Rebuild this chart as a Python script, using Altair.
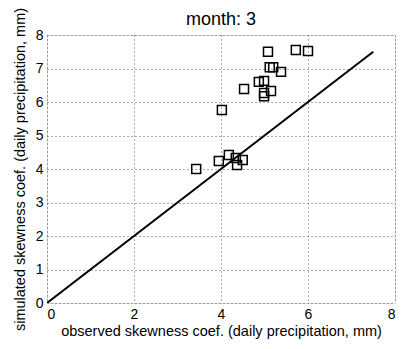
import altair as alt
import pandas as pd

# observed vs simulated skewness coefficients (month 3)
observed = [5.72, 6.00, 5.08, 5.12, 5.20, 5.38, 4.87, 4.99, 4.53, 5.15, 4.99, 4.99, 4.02,
            3.43, 3.95, 4.18, 4.34, 4.37, 4.50]
simulated = [7.55, 7.52, 7.50, 7.04, 7.04, 6.90, 6.60, 6.63, 6.39, 6.33, 6.27, 6.17, 5.76,
             4.00, 4.24, 4.42, 4.33, 4.12, 4.27]
line_x = [0, 7.5]
line_y = [0, 7.5]
x_ticks = [0, 2, 4, 6, 8]
y_ticks = [0, 1, 2, 3, 4, 5, 6, 7, 8]
title_text = ["month: 3"]

pts = pd.DataFrame({"obs": observed, "sim": simulated})
ln = pd.DataFrame({"obs": line_x, "sim": line_y})
tt = pd.DataFrame({"t": title_text})

FONT = "Liberation Sans"

xs = alt.Scale(domain=[0, 8], nice=False)
ys = alt.Scale(domain=[0, 8], nice=False)

xax = alt.Axis(values=x_ticks, title="observed skewness coef. (daily precipitation, mm)",
               grid=True, gridColor="#555", gridDash=[1, 3], gridWidth=1,
               domain=False, ticks=False, labelPadding=4, labelFontSize=14,
               titleFontSize=14.5, titleFontWeight="normal", titlePadding=3,
               labelColor="black", titleColor="black", labelFont=FONT, titleFont=FONT)
yax = alt.Axis(values=y_ticks, title="simulated skewness coef. (daily precipitation, mm)",
               grid=True, gridColor="#555", gridDash=[1, 3], gridWidth=1,
               domain=False, ticks=False, labelPadding=4, labelFontSize=14,
               labelOverlap=False,
               titleFontSize=14.5, titleFontWeight="normal", titlePadding=8,
               labelColor="black", titleColor="black", labelFont=FONT, titleFont=FONT)

line = alt.Chart(ln).mark_line(color="black", strokeWidth=2, clip=True).encode(
    x=alt.X("obs:Q", scale=xs, axis=xax),
    y=alt.Y("sim:Q", scale=ys, axis=yax),
)
points = alt.Chart(pts).mark_point(shape="square", filled=False, color="black",
                                   size=80, strokeWidth=1.5, opacity=1).encode(
    x=alt.X("obs:Q", scale=xs, axis=xax),
    y=alt.Y("sim:Q", scale=ys, axis=yax),
)
title = alt.Chart(tt).mark_text(font=FONT, fontSize=18, color="black",
                                baseline="alphabetic", align="center").encode(
    text="t:N", x=alt.value(174), y=alt.value(-10),
)

chart = (line + points + title).properties(
    width=348, height=268,
    autosize=alt.AutoSizeParams(type="none"),
    padding={"left": 47, "top": 35, "right": 12, "bottom": 46},
).configure_view(stroke="black", strokeWidth=1.2).configure(background="white")

chart.save("out.html", embed_options={"renderer": "svg", "actions": False})
